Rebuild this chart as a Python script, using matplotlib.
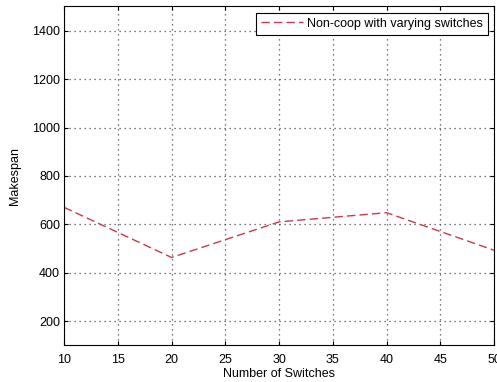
import matplotlib
matplotlib.use('Agg')
import matplotlib.pyplot as plt

# data
switches = [10, 20, 30, 40, 50]
makespan = [670, 463, 610, 648, 493]
xticks = [10, 15, 20, 25, 30, 35, 40, 45, 50]
yticks = [200, 400, 600, 800, 1000, 1200, 1400]

plt.rcParams['font.family'] = ['Liberation Sans', 'DejaVu Sans']
plt.rcParams['font.size'] = 9

fig = plt.figure(figsize=(4.97, 3.82), dpi=100)
ax = fig.add_axes([0.129, 0.096, 0.865, 0.887])

ax.plot(switches, makespan, '--', color='#cc3848', linewidth=1.0,
        dashes=(6, 3), label='Non-coop with varying switches')

ax.set_xlim(10, 50)
ax.set_ylim(100, 1500)
ax.set_xticks(xticks)
ax.set_yticks(yticks)
ax.grid(True, linestyle=(0, (1, 3)), color='0.3', linewidth=0.9)
ax.tick_params(direction='in', top=True, right=True, length=3, pad=3)
ax.tick_params(axis='x', pad=6)
ax.set_xlabel('Number of Switches', labelpad=2)
ax.set_ylabel('Makespan', labelpad=8)

leg = ax.legend(loc='upper right', fancybox=False, framealpha=1,
                edgecolor='black', borderaxespad=0.5, handlelength=3.4,
                borderpad=0.4, handletextpad=0.3)
leg.get_frame().set_linewidth(0.8)

fig.savefig('out.png', dpi=100)
